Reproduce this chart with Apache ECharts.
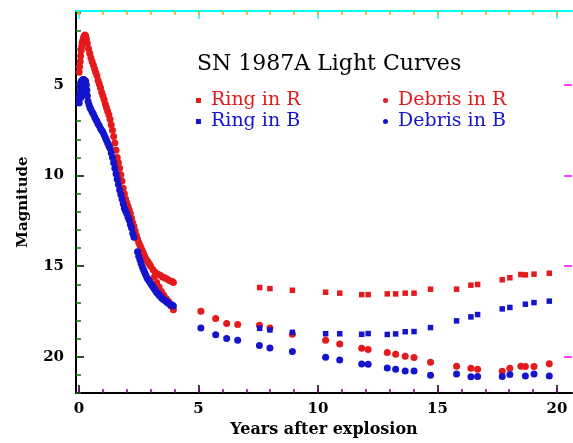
<!DOCTYPE html>
<html>
<head>
<meta charset="utf-8">
<script src="https://cdn.jsdelivr.net/npm/echarts@6/dist/echarts.min.js"></script>
<style>
  html, body { margin: 0; padding: 0; background: #fff; overflow: hidden; }
  #main { width: 573px; height: 443px; }
</style>
</head>
<body>
<div id="main"></div>
<script>
// tick values
var xMajor = [0, 5, 10, 15, 20];
var xMinor = [0,1,2,3,4,5,6,7,8,9,10,11,12,13,14,15,16,17,18,19,20];
var yMajor = [5, 10, 15, 20];
var yMinor = [1,2,3,4,5,6,7,8,9,10,11,12,13,14,15,16,17,18,19,20,21,22];

// early light curve, R band  [years, magnitude]
var debrisREarly = [
  [0.01,4.3],[0.03,4.0],[0.05,3.7],[0.07,3.4],[0.09,3.1],[0.11,2.9],[0.13,2.7],[0.16,2.55],
  [0.19,2.4],[0.22,2.3],[0.25,2.25],[0.28,2.3],[0.31,2.45],[0.35,2.7],[0.40,3.0],[0.45,3.25],
  [0.50,3.5],[0.55,3.7],[0.60,3.9],[0.65,4.1],[0.70,4.3],[0.75,4.5],[0.80,4.75],[0.85,4.95],
  [0.90,5.15],[0.95,5.4],[1.00,5.6],[1.05,5.8],[1.10,6.05],[1.15,6.25],[1.20,6.45],[1.25,6.65],
  [1.30,6.9],[1.35,7.2],[1.40,7.5],[1.45,7.85],[1.50,8.2],[1.55,8.6],[1.60,9.0],[1.65,9.3],
  [1.70,9.6],[1.75,9.95],[1.80,10.3],[1.85,10.7],[1.90,11.0],[1.95,11.3],[2.00,11.5],[2.05,11.7],
  [2.10,11.9],[2.15,12.1],[2.20,12.35],[2.25,12.6],[2.30,12.8],[2.35,13.05],[2.40,13.3],[2.45,13.5],
  [2.50,13.7],[2.55,13.85],[2.60,14.0],[2.65,14.15],[2.70,14.3],[2.75,14.45],[2.80,14.6],[2.85,14.7],
  [2.90,14.8],[2.95,14.9],[3.00,15.0],[3.10,15.2],[3.20,15.35],[3.30,15.45],[3.40,15.5],[3.50,15.6],
  [3.60,15.65],[3.70,15.72],[3.80,15.8],[3.90,15.85],[3.95,15.9],
  [3.15,15.6],[3.25,15.9],[3.35,16.15],[3.45,16.4],[3.55,16.6],[3.65,16.8],[3.75,16.95],[3.85,17.2],[3.95,17.4]
];

// early light curve, B band
var debrisBEarly = [
  [0.01,6.0],[0.02,5.7],[0.03,5.4],[0.05,5.1],[0.07,4.9],[0.10,4.8],[0.13,4.75],[0.16,4.7],
  [0.20,4.7],[0.24,4.75],[0.28,4.8],[0.31,5.0],[0.33,5.3],[0.35,5.6],[0.38,5.9],[0.42,6.1],
  [0.04,5.5],[0.08,5.7],[0.12,5.6],[0.18,5.4],[0.22,5.2],[0.27,5.5],
  [0.46,6.25],[0.50,6.35],[0.55,6.5],[0.60,6.6],[0.65,6.75],[0.70,6.9],[0.75,7.0],[0.80,7.15],
  [0.85,7.25],[0.90,7.4],[0.95,7.5],[1.00,7.6],[1.05,7.75],[1.10,7.9],[1.15,8.05],[1.20,8.2],
  [1.25,8.35],[1.30,8.5],[1.35,8.75],[1.40,9.0],[1.45,9.3],[1.50,9.6],[1.55,9.9],[1.60,10.2],
  [1.65,10.5],[1.70,10.8],[1.75,11.05],[1.80,11.3],[1.85,11.55],[1.90,11.8],[1.95,11.95],[2.00,12.1],
  [2.05,12.3],[2.10,12.45],[2.15,12.7],[2.20,12.9],[2.25,13.2],[2.30,13.4],
  [2.45,14.2],[2.50,14.45],[2.55,14.65],[2.60,14.85],[2.65,15.05],[2.70,15.2],[2.75,15.35],[2.80,15.5],
  [2.85,15.65],[2.90,15.75],[2.95,15.85],[3.00,15.95],[3.05,16.05],[3.10,16.15],[3.15,16.25],[3.20,16.35],
  [3.25,16.45],[3.30,16.5],[3.35,16.6],[3.40,16.65],[3.45,16.75],[3.50,16.8],[3.55,16.85],[3.60,16.9],
  [3.65,16.95],[3.70,17.0],[3.75,17.05],[3.80,17.1],[3.85,17.15],[3.90,17.15],[3.95,17.2]
];

// later epochs
var debrisRLate = [
  [5.10,17.49],[5.72,17.89],[6.18,18.17],[6.64,18.22],[7.55,18.26],[7.99,18.41],[8.93,18.76],
  [10.32,19.09],[10.91,19.29],[11.83,19.53],[12.10,19.60],[12.90,19.77],[13.25,19.86],[13.65,19.97],
  [14.02,20.04],[14.71,20.30],[15.80,20.52],[16.40,20.64],[16.68,20.69],[17.71,20.80],[18.03,20.64],
  [18.49,20.52],[18.68,20.54],[19.04,20.54],[19.68,20.38]
];
var debrisBLate = [
  [5.10,18.41],[5.72,18.79],[6.18,18.99],[6.64,19.09],[7.55,19.38],[7.99,19.51],[8.93,19.71],
  [10.32,20.03],[10.91,20.18],[11.83,20.40],[12.10,20.41],[12.90,20.62],[13.25,20.69],[13.65,20.78],
  [14.02,20.78],[14.71,21.02],[15.80,20.95],[16.40,21.11],[16.68,21.09],[17.71,21.09],[18.03,20.98],
  [18.68,21.06],[19.04,20.95],[19.68,21.06]
];
var ringR = [
  [7.56,16.18],[7.99,16.24],[8.93,16.33],[10.32,16.44],[10.91,16.49],[11.83,16.57],[12.10,16.57],
  [12.90,16.53],[13.25,16.53],[13.65,16.49],[14.02,16.49],[14.71,16.27],[15.80,16.27],[16.40,16.05],
  [16.68,16.01],[17.71,15.75],[18.03,15.64],[18.49,15.46],[18.68,15.48],[19.04,15.44],[19.68,15.39]
];
var ringB = [
  [7.56,18.43],[7.99,18.52],[8.93,18.65],[10.32,18.73],[10.91,18.73],[11.83,18.76],[12.10,18.72],
  [12.90,18.77],[13.25,18.74],[13.65,18.62],[14.02,18.61],[14.71,18.39],[15.80,18.02],[16.40,17.80],
  [16.68,17.67],[17.71,17.36],[18.03,17.28],[18.68,17.10],[19.04,17.01],[19.68,16.93]
];

var RED = '#e41a1c';
var BLUE = '#1414cc';
var serif = 'DejaVu Serif';

var myChart = echarts.init(document.getElementById('main'));

// extra axis that only draws a row of ticks
function tickAxis(pos, vals, len, col, extra) {
  var a = {
    type: 'value',
    position: pos,
    axisLine: { show: false, onZero: false },
    axisTick: { show: true, inside: true, length: len, customValues: vals,
                lineStyle: { color: col, width: 1.5 } },
    axisLabel: { show: false },
    splitLine: { show: false }
  };
  for (var k in extra) a[k] = extra[k];
  return a;
}

var xMin = -0.125, xMax = 20.63;
var yMin = 0.92, yMax = 22;
var nameFont = { color: '#000', fontFamily: serif, fontWeight: 'bold', fontSize: 16 };

var xAxes = [
  {
    type: 'value', position: 'bottom', min: xMin, max: xMax,
    axisLine: { show: true, onZero: false, lineStyle: { color: '#000', width: 2 } },
    axisTick: { show: true, inside: true, length: 8, customValues: xMajor,
                lineStyle: { color: '#000', width: 1.5 } },
    axisLabel: { show: true, customValues: xMajor, margin: 9, color: '#000',
                 fontFamily: serif, fontWeight: 'bold', fontSize: 15 },
    splitLine: { show: false },
    name: 'Years after explosion', nameLocation: 'middle', nameGap: 26,
    nameTextStyle: nameFont
  },
  tickAxis('bottom', xMinor, 4, 'purple', { min: xMin, max: xMax }),
  {
    type: 'value', position: 'top', min: xMin, max: xMax,
    axisLine: { show: true, onZero: false, lineStyle: { color: 'cyan', width: 2 } },
    axisTick: { show: true, inside: true, length: 8, customValues: xMajor,
                lineStyle: { color: 'cyan', width: 1.5 } },
    axisLabel: { show: false }, splitLine: { show: false }
  },
  tickAxis('top', xMinor, 4, 'orange', { min: xMin, max: xMax })
];

var yAxes = [
  {
    type: 'value', position: 'left', min: yMin, max: yMax, inverse: true,
    axisLine: { show: true, onZero: false, lineStyle: { color: '#000', width: 2 } },
    axisTick: { show: true, inside: true, length: 8, customValues: yMajor,
                lineStyle: { color: '#000', width: 1.5 } },
    axisLabel: { show: true, customValues: yMajor, margin: 12, color: '#000',
                 fontFamily: serif, fontWeight: 'bold', fontSize: 15 },
    splitLine: { show: false },
    name: 'Magnitude', nameLocation: 'middle', nameGap: 45,
    nameTextStyle: { color: '#000', fontFamily: serif, fontWeight: 'bold', fontSize: 15 }
  },
  tickAxis('left', yMinor, 5, 'green', { min: yMin, max: yMax, inverse: true }),
  tickAxis('right', yMajor, 8, 'magenta', { min: yMin, max: yMax, inverse: true })
];

function scatter(name, data, symbol, size, color) {
  return {
    name: name, type: 'scatter', data: data, symbol: symbol, symbolSize: size,
    xAxisIndex: 0, yAxisIndex: 0,
    itemStyle: { color: color, opacity: 1 },
    emphasis: { disabled: true }, silent: true
  };
}

var legendText = { fontFamily: serif, fontSize: 19, lineHeight: 21, padding: [0, 0, 0, 5] };

var option = {
  animation: false,
  title: {
    text: 'SN 1987A Light Curves', left: 197, top: 53, padding: 0,
    textStyle: { color: '#000', fontFamily: serif, fontWeight: 'normal', fontSize: 22 }
  },
  legend: [
    {
      orient: 'vertical', left: 196, top: 90, padding: 0, itemGap: 0,
      itemWidth: 5, itemHeight: 5, selectedMode: false, textStyle: legendText,
      data: [
        { name: 'Ring in R', icon: 'rect', textStyle: { color: RED } },
        { name: 'Ring in B', icon: 'rect', textStyle: { color: BLUE } }
      ]
    },
    {
      orient: 'vertical', left: 383, top: 90, padding: 0, itemGap: 0,
      itemWidth: 5, itemHeight: 5, selectedMode: false, textStyle: legendText,
      data: [
        { name: 'Debris in R', icon: 'circle', textStyle: { color: RED } },
        { name: 'Debris in B', icon: 'circle', textStyle: { color: BLUE } }
      ]
    }
  ],
  grid: { left: 76, top: 11, right: 1, bottom: 50 },
  xAxis: xAxes,
  yAxis: yAxes,
  series: [
    scatter('Debris in R', debrisREarly.concat(debrisRLate), 'circle', 7, RED),
    scatter('Debris in B', debrisBEarly.concat(debrisBLate), 'circle', 7, BLUE),
    scatter('Ring in R', ringR, 'rect', 5.5, RED),
    scatter('Ring in B', ringB, 'rect', 5.5, BLUE)
  ]
};

myChart.setOption(option);
</script>
</body>
</html>
